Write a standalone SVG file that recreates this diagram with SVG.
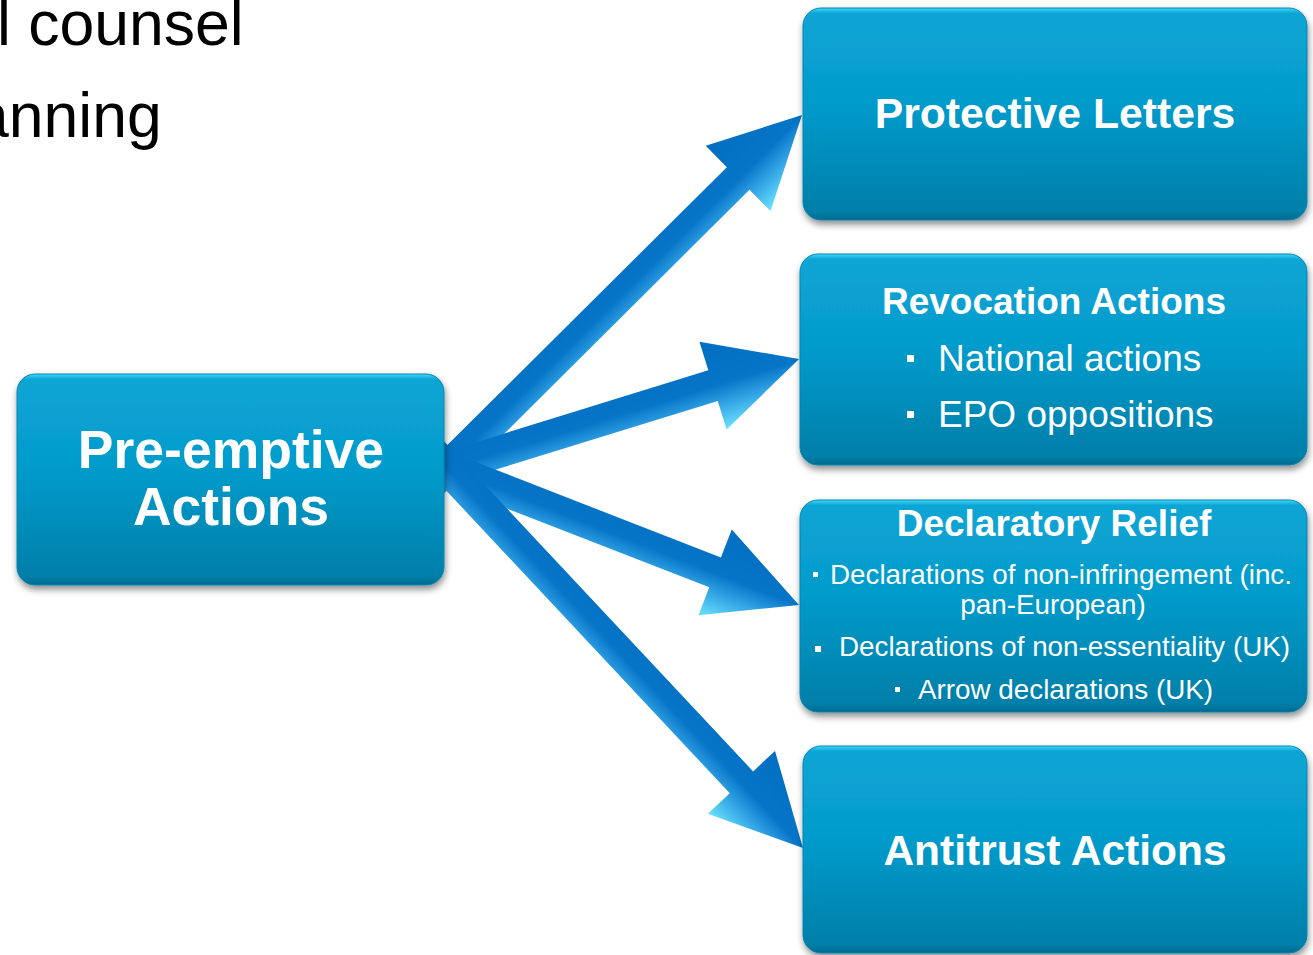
<svg xmlns="http://www.w3.org/2000/svg" width="1313" height="955" viewBox="0 0 1313 955">
  <style>
    .hdr { font-family: "Liberation Sans", Arial, sans-serif; fill: #000; font-size: 62.5px; }
    .ttl { font-family: "Liberation Sans", Arial, sans-serif; font-weight: bold; fill: #fff; text-anchor: middle; }
    .itm { font-family: "Liberation Sans", Arial, sans-serif; fill: #fff; }
    .box { fill: url(#boxFill); stroke: #0686b2; stroke-width: 1; filter: url(#shadow); }
    .arrow { fill: url(#arrowFill); }
    .bul { fill: #fff; }
  </style>
  <defs>
    <linearGradient id="boxFill" x1="0" y1="0" x2="0" y2="1">
      <stop offset="0" stop-color="#43d8fb"/>
      <stop offset="0.025" stop-color="#09a5d5"/>
      <stop offset="0.45" stop-color="#059bcb"/>
      <stop offset="0.96" stop-color="#057fa9"/>
      <stop offset="1" stop-color="#046a8f"/>
    </linearGradient>
    <linearGradient id="arrowFill" x1="0" y1="0" x2="0" y2="1">
      <stop offset="0" stop-color="#006fc2"/>
      <stop offset="0.5" stop-color="#0674c7"/>
      <stop offset="0.68" stop-color="#2a9be0"/>
      <stop offset="1" stop-color="#6be3ff"/>
    </linearGradient>
    <filter id="shadow" x="-5%" y="-10%" width="110%" height="125%">
      <feDropShadow dx="1" dy="4" stdDeviation="3.5" flood-color="#000" flood-opacity="0.45"/>
    </filter>
  </defs>

  <!-- partial heading text at the top left -->
  <g id="heading">
    <text class="hdr" x="-3" y="45">l counsel</text>
    <text class="hdr" x="-26" y="137">anning</text>
  </g>

  <!-- block arrows fanning out from the source box -->
  <g id="connectors">
    <path class="arrow" transform="translate(447,468) rotate(-44.84)" d="M-40,-16 H410.6 V-46 L500.6,0 L410.6,46 V16 H-40 Z"/>
    <path class="arrow" transform="translate(447,468) rotate(-17.2)" d="M-40,-16 H278.5 V-46 L368.5,0 L278.5,46 V16 H-40 Z"/>
    <path class="arrow" transform="translate(447,468) rotate(21.27)" d="M-40,-16 H287.7 V-46 L377.7,0 L287.7,46 V16 H-40 Z"/>
    <path class="arrow" transform="translate(447,468) rotate(46.87)" d="M-40,-16 H430.7 V-46 L520.7,0 L430.7,46 V16 H-40 Z"/>
  </g>

  <g id="preemptive">
    <rect class="box" x="17" y="374" width="427" height="211" rx="18"/>
    <text class="ttl" x="231" y="468" font-size="53.5">Pre-emptive</text>
    <text class="ttl" x="231" y="525" font-size="53.5">Actions</text>
  </g>

  <g id="protective">
    <rect class="box" x="803" y="8" width="504" height="212" rx="18"/>
    <text class="ttl" x="1055" y="128" font-size="42.7">Protective Letters</text>
  </g>

  <g id="revocation">
    <rect class="box" x="800" y="254" width="507" height="211" rx="18"/>
    <text class="ttl" x="1054" y="314" font-size="37">Revocation Actions</text>
    <rect class="bul" x="907" y="355" width="7" height="7"/>
    <text class="itm" x="938" y="371" font-size="37">National actions</text>
    <rect class="bul" x="907" y="411" width="7" height="7"/>
    <text class="itm" x="938" y="427" font-size="37">EPO oppositions</text>
  </g>

  <g id="declaratory">
    <rect class="box" x="800" y="500" width="507" height="212" rx="18"/>
    <text class="ttl" x="1054" y="536" font-size="37">Declaratory Relief</text>
    <rect class="bul" x="813" y="572" width="5" height="5"/>
    <text class="itm" x="830" y="584" font-size="27.8">Declarations of non-infringement (inc.</text>
    <text class="itm" x="1053" y="614" font-size="27.8" text-anchor="middle">pan-European)</text>
    <rect class="bul" x="815" y="646" width="6" height="6"/>
    <text class="itm" x="839" y="656" font-size="27.8">Declarations of non-essentiality (UK)</text>
    <rect class="bul" x="895" y="687" width="5" height="5"/>
    <text class="itm" x="918" y="699" font-size="27.8">Arrow declarations (UK)</text>
  </g>

  <g id="antitrust">
    <rect class="box" x="803" y="746" width="504" height="207" rx="18"/>
    <text class="ttl" x="1055" y="865" font-size="42.5">Antitrust Actions</text>
  </g>
</svg>
